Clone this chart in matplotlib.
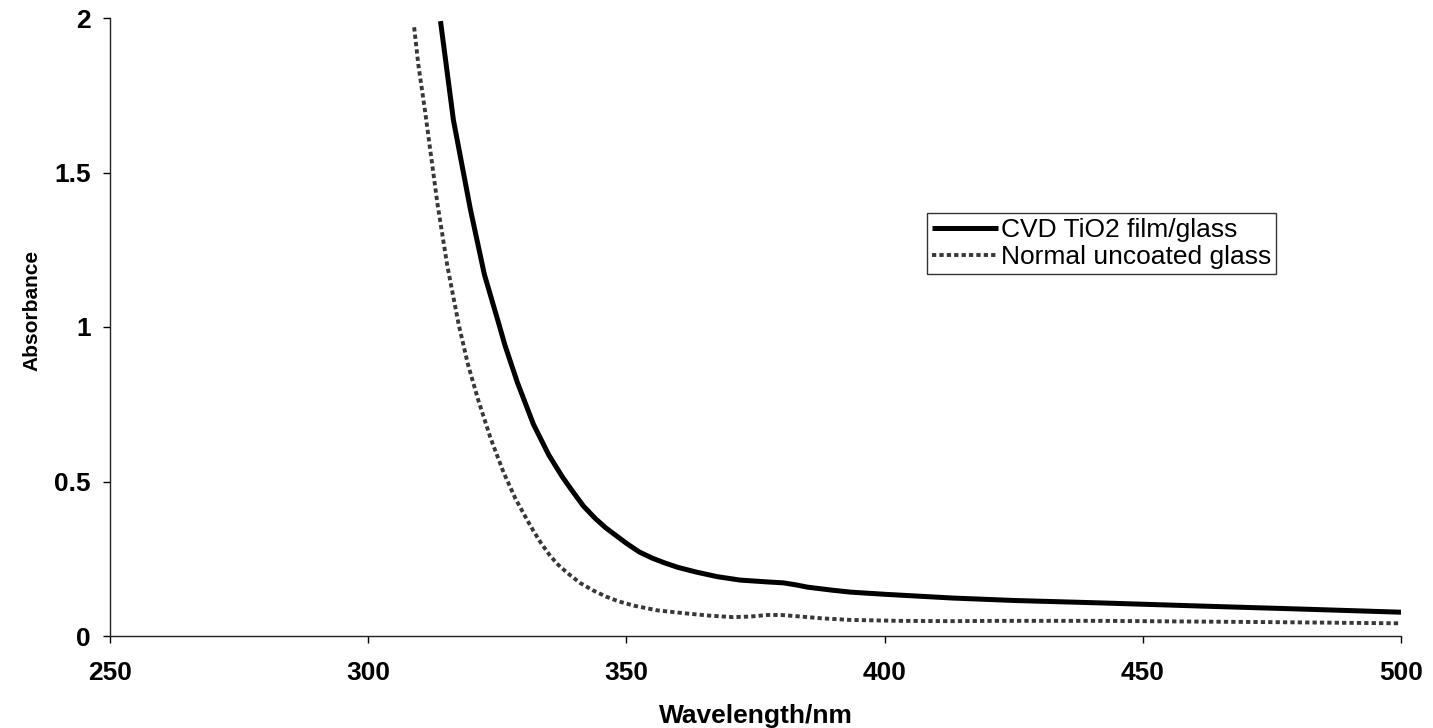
import matplotlib
matplotlib.use('Agg')
from matplotlib import pyplot as plt

# CVD TiO2 film on glass (solid line)
wl_film = [314.0, 316.5, 319.8, 322.5, 325.3, 326.5, 328.9, 332.0, 335.0, 337.6,
           339.5, 341.7, 344.0, 346.0, 348.0, 350.0, 352.5, 355.0, 357.5, 360.0,
           363.5, 367.6, 372.0, 377.3, 380.4, 383.0, 385.1, 390.0, 393.4, 400.0,
           413.0, 425.0, 442.0, 463.0, 481.0, 500.0]
abs_film = [1.99, 1.67, 1.38, 1.17, 1.01, 0.94, 0.82, 0.685, 0.585, 0.515,
            0.47, 0.42, 0.38, 0.35, 0.325, 0.30, 0.272, 0.252, 0.236, 0.222,
            0.207, 0.192, 0.181, 0.175, 0.172, 0.165, 0.158, 0.148, 0.142, 0.135,
            0.123, 0.115, 0.107, 0.096, 0.087, 0.077]

# normal uncoated glass (dotted line)
wl_glass = [308.9, 309.7, 311.0, 313.4, 315.3, 317.5, 319.3, 321.3, 323.7, 326.2,
            328.5, 330.8, 332.0, 333.5, 335.0, 336.5, 338.5, 341.0, 343.5, 346.0,
            348.5, 351.5, 356.0, 361.0, 366.0, 370.7, 374.0, 377.3, 380.0, 383.7,
            388.0, 393.4, 403.0, 413.0, 422.0, 442.0, 474.0, 500.0]
abs_glass = [1.97, 1.85, 1.70, 1.40, 1.20, 1.01, 0.88, 0.764, 0.64, 0.53,
             0.445, 0.375, 0.34, 0.30, 0.265, 0.235, 0.205, 0.172, 0.148, 0.128,
             0.112, 0.098, 0.083, 0.074, 0.066, 0.061, 0.063, 0.068, 0.068, 0.063,
             0.057, 0.052, 0.049, 0.048, 0.049, 0.049, 0.045, 0.041]

x_ticks = [250, 300, 350, 400, 450, 500]
y_ticks = [0, 0.5, 1, 1.5, 2]
y_tick_labels = ["0", "0.5", "1", "1.5", "2"]

plt.rcParams['font.family'] = ['Liberation Sans', 'DejaVu Sans']

fig = plt.figure(figsize=(14.33, 7.28), dpi=100)
ax = fig.add_axes([110 / 1433, 1 - 636 / 728, (1401 - 110) / 1433, (636 - 18) / 728])

ax.plot(wl_film, abs_film, color='black', lw=3.6, solid_capstyle='butt',
        solid_joinstyle='round', label='CVD TiO2 film/glass')
ax.plot(wl_glass, abs_glass, color='#383838', lw=2.8, linestyle=(0, (1.1, 0.8)),
        dash_joinstyle='round', label='Normal uncoated glass')

ax.set_xlim(250, 500)
ax.set_ylim(0, 2)
ax.set_xticks(x_ticks)
ax.set_yticks(y_ticks)
ax.set_yticklabels(y_tick_labels)

for side in ['top', 'right']:
    ax.spines[side].set_visible(False)
for side in ['left', 'bottom']:
    ax.spines[side].set_linewidth(1.0)
    ax.spines[side].set_color('#222222')

ax.tick_params(axis='both', direction='out', length=5, width=1, labelsize=19)
ax.tick_params(axis='y', pad=9)
ax.tick_params(axis='x', pad=13)
for lab in ax.get_xticklabels() + ax.get_yticklabels():
    lab.set_fontweight('bold')

ax.set_xlabel('Wavelength/nm', fontsize=19, fontweight='bold', va='top')
ax.xaxis.set_label_coords(0.5, -0.11)
ax.set_ylabel('Absorbance', fontsize=15, fontweight='bold')
ax.yaxis.set_label_coords(-0.053, 0.527)

leg = ax.legend(loc='upper left', bbox_to_anchor=(927 / 1433, 1 - 213 / 728),
                bbox_transform=fig.transFigure, fontsize=19, frameon=True,
                fancybox=False, handlelength=2.5, handletextpad=0.1,
                borderpad=0.2, labelspacing=0.1, borderaxespad=0)
leg.get_frame().set_edgecolor('black')
leg.get_frame().set_linewidth(1.0)

fig.savefig('out.png', dpi=100)
